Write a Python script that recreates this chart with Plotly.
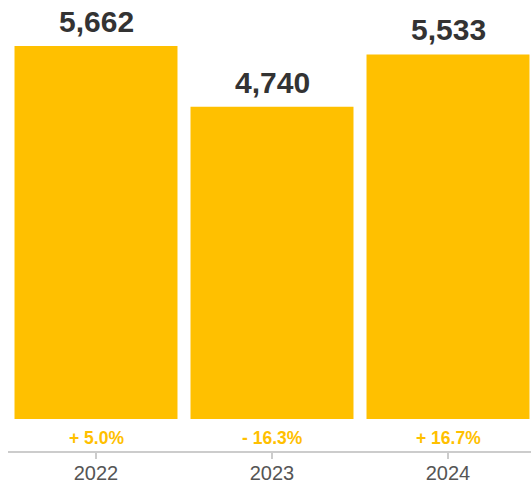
import plotly.graph_objects as go

years = ["2022", "2023", "2024"]
values = [5662, 4740, 5533]
changes = ["+ 5.0%", "- 16.3%", "+ 16.7%"]

GOLD = "#FFC000"
FONT = "Liberation Sans, Arial, Helvetica, sans-serif"

fig = go.Figure(
    go.Bar(
        x=years,
        y=values,
        marker=dict(color=GOLD, line=dict(width=0)),
        hoverinfo="skip",
    )
)

annotations = []
# value labels above each bar
for i, v in enumerate(values):
    annotations.append(dict(
        x=i, y=v, xref="x", yref="y",
        text=f"<b>{v:,}</b>", showarrow=False,
        yanchor="bottom", yshift=6,
        font=dict(family=FONT, size=30, color="#333333"),
    ))

# year-over-year change under each bar
for i, c in enumerate(changes):
    annotations.append(dict(
        x=i, y=-290, xref="x", yref="y",
        text=f"<b>{c}</b>", showarrow=False,
        font=dict(family=FONT, size=17.5, color=GOLD),
    ))

fig.update_layout(
    width=531, height=486,
    margin=dict(l=8, r=0, t=0, b=35),
    paper_bgcolor="white", plot_bgcolor="white",
    bargap=0.074,
    showlegend=False,
    annotations=annotations,
    xaxis=dict(
        type="category",
        range=[-0.5, 2.4716],
        showline=True, linecolor="#cccccc", linewidth=2,
        ticks="outside", ticklen=6, tickwidth=2, tickcolor="#cccccc",
        ticklabelstandoff=-3,
        tickfont=dict(family=FONT, size=20, color="#555555"),
        showgrid=False, zeroline=False,
    ),
    yaxis=dict(
        range=[-486, 6360],
        visible=False, showgrid=False, zeroline=False,
    ),
)

fig.write_html("out.html")
